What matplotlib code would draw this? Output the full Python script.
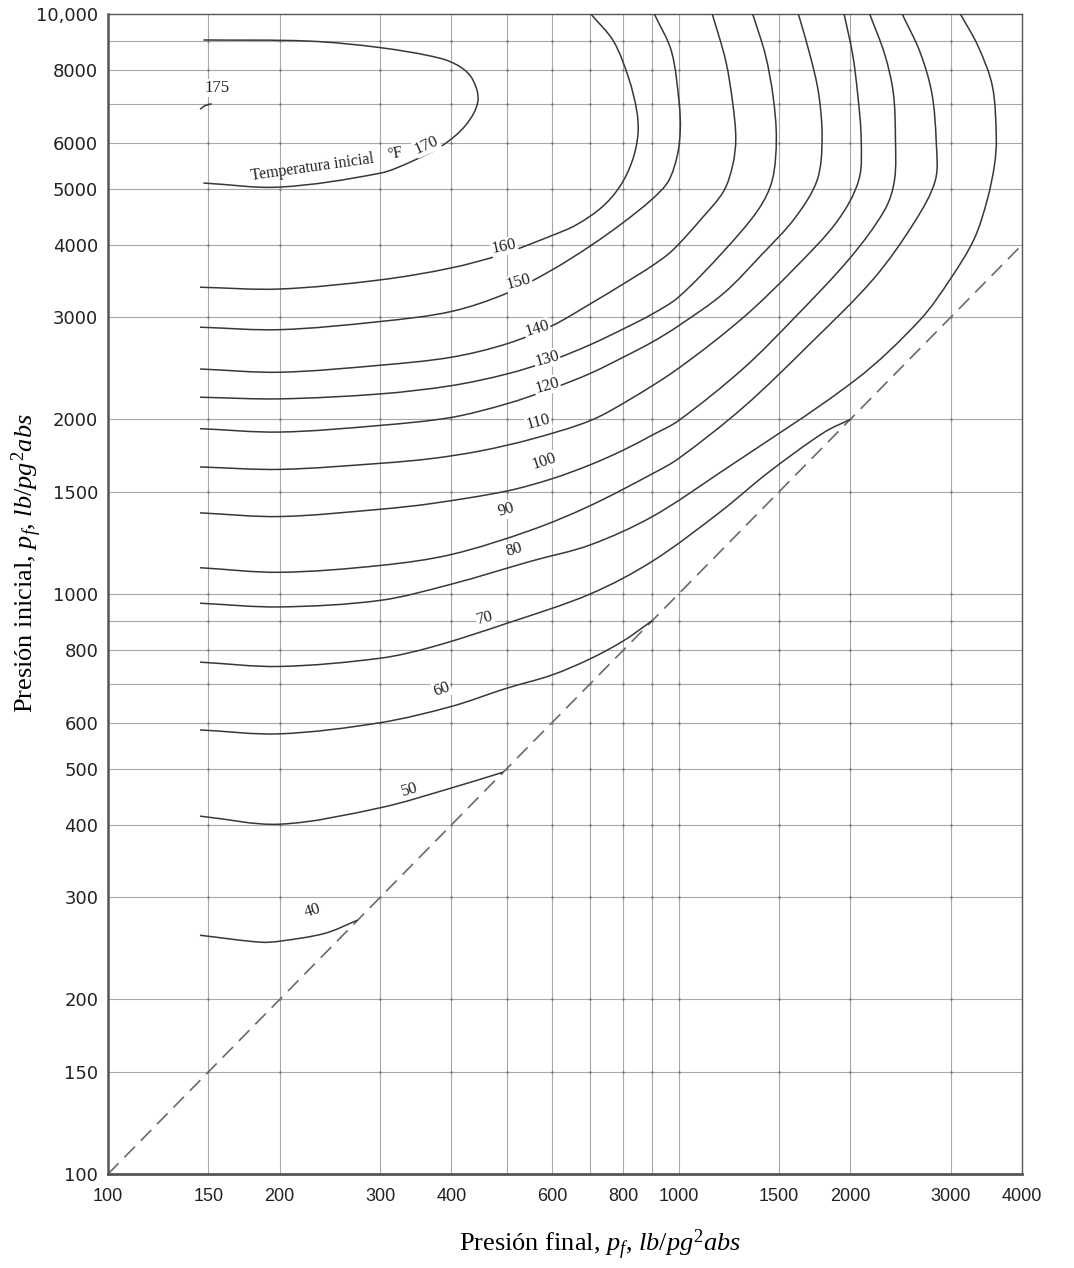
"""Permissible expansion chart: initial vs. final pressure for several initial temperatures."""

import matplotlib.pyplot as plt
import numpy as np
from matplotlib.patches import PathPatch
from matplotlib.path import Path
from matplotlib.ticker import NullLocator

plt.rcParams["mathtext.fontset"] = "custom"
plt.rcParams["mathtext.rm"] = "Liberation Serif"
plt.rcParams["mathtext.it"] = "Liberation Serif:italic"

# Axis ticks and grid
X_TICKS = [100, 150, 200, 300, 400, 600, 800, 1000, 1500, 2000, 3000, 4000]
Y_TICKS = [100, 150, 200, 300, 400, 500, 600, 800, 1000, 1500, 2000, 3000,
           4000, 5000, 6000, 8000, 10000]
Y_TICK_LABELS = ["100", "150", "200", "300", "400", "500", "600", "800", "1000",
                 "1500", "2000", "3000", "4000", "5000", "6000", "8000", "10,000"]
X_GRID = [150, 200, 300, 400, 500, 600, 700, 800, 900, 1000, 1500, 2000, 3000]
Y_GRID = [150, 200, 300, 400, 500, 600, 700, 800, 900, 1000, 1500, 2000, 3000,
          4000, 5000, 6000, 7000, 8000, 9000]

# Constant initial-temperature curves (final pressure, initial pressure), psia
PF_40 = [145, 185, 200, 240, 274]
PI_40 = [258, 251, 252, 260, 274]
PF_50 = [145, 200, 300, 400, 493]
PI_50 = [414, 401, 428, 463, 493]
PF_60 = [145, 200, 300, 400, 500, 600, 700, 800, 900]
PI_60 = [583, 574, 600, 640, 688, 725, 773, 830, 900]
PF_70 = [145, 200, 300, 369, 500, 700, 900, 1183, 1438, 1800, 2000]
PI_70 = [763, 750, 775, 810, 890, 1000, 1139, 1385, 1621, 1900, 2000]
PF_80 = [145, 200, 300, 400, 553, 700, 900, 1183, 2042, 2650, 3000, 3300, 3480,
         3580, 3606, 3550, 3350, 3119]
PI_80 = [964, 950, 975, 1040, 1140, 1215, 1360, 1620, 2339, 2968, 3500, 4100,
         4800, 5500, 6100, 7500, 8800, 10000]
PF_90 = [145, 200, 300, 400, 553, 700, 900, 1000, 1300, 1700, 2200, 2600, 2820,
         2830, 2780, 2650, 2466]
PI_90 = [1110, 1090, 1120, 1170, 1290, 1420, 1612, 1712, 2100, 2700, 3500, 4400,
         5173, 6000, 7300, 8600, 10000]
PF_100 = [145, 200, 300, 369, 500, 600, 700, 800, 900, 1000, 1300, 1600, 2000,
          2300, 2391, 2400, 2380, 2300, 2163]
PI_100 = [1380, 1360, 1400, 1432, 1505, 1580, 1670, 1770, 1880, 1990, 2450, 3000,
          3800, 4600, 5173, 6100, 7300, 8500, 10000]
PF_110 = [145, 200, 300, 369, 450, 553, 700, 819, 1000, 1300, 1600, 1900, 2070,
          2090, 2060, 2020, 1951]
PI_110 = [1656, 1640, 1680, 1712, 1765, 1850, 1990, 2161, 2450, 3000, 3650, 4400,
          5173, 6100, 7300, 8500, 10000]
PF_120 = [145, 200, 300, 400, 500, 600, 700, 800, 900, 1000, 1200, 1400, 1600,
          1750, 1785, 1760, 1700, 1622]
PI_120 = [1928, 1902, 1953, 2016, 2128, 2260, 2400, 2560, 2720, 2900, 3300, 3850,
          4450, 5173, 6100, 7300, 8500, 10000]
PF_130 = [145, 200, 300, 400, 500, 600, 700, 800, 900, 1000, 1200, 1380, 1460,
          1484, 1465, 1420, 1349]
PI_130 = [2184, 2170, 2213, 2287, 2395, 2530, 2690, 2864, 3040, 3250, 3900, 4600,
          5173, 6100, 7200, 8500, 10000]
PF_140 = [145, 200, 300, 400, 500, 600, 700, 800, 900, 975, 1100, 1200, 1245,
          1260, 1245, 1210, 1146]
PI_140 = [2443, 2412, 2480, 2560, 2700, 2900, 3163, 3424, 3683, 3909, 4450, 4950,
          5500, 6100, 7000, 8300, 10000]
PF_150 = [145, 200, 300, 400, 500, 600, 700, 800, 900, 960, 995, 1007, 1003, 972,
          907]
PI_150 = [2884, 2856, 2950, 3070, 3300, 3620, 3980, 4370, 4800, 5150, 5700, 6300,
          7000, 8620, 10000]
PF_160 = [145, 200, 300, 400, 490, 600, 662, 735, 790, 830, 849, 845, 818, 769, 702]
PI_160 = [3380, 3356, 3480, 3650, 3850, 4150, 4330, 4650, 5050, 5587, 6201, 6802,
          7745, 8980, 10000]
PF_170 = [147, 200, 300, 340, 386, 424, 445, 436, 415, 380, 300, 225, 147]
PI_170 = [5112, 5030, 5316, 5565, 5938, 6438, 7072, 7700, 8100, 8400, 8750, 8980,
          9020]
PF_175 = [145, 148, 152]
PI_175 = [6850, 6950, 7000]

# Temperature labels placed along the curves
LABEL_TEXT = ["175", "170", "160", "150", "140", "130", "120", "110", "100",
              "90", "80", "70", "60", "50", "40"]
LABEL_PF = [155, 362, 495, 525, 565, 588, 588, 568, 582, 498, 515, 458, 385, 338, 228]
LABEL_PI = [7450, 5938, 3970, 3446, 2864, 2543, 2287, 1977, 1690, 1395, 1190, 907,
            686, 460, 284]
LABEL_ROT = [0, 24, 12, 15, 17, 16, 16, 15, 18, 17, 17, 14, 20, 17, 17]

CURVES = [
    (PF_40, PI_40), (PF_50, PI_50), (PF_60, PI_60), (PF_70, PI_70),
    (PF_80, PI_80), (PF_90, PI_90), (PF_100, PI_100), (PF_110, PI_110),
    (PF_120, PI_120), (PF_130, PI_130), (PF_140, PI_140), (PF_150, PI_150),
    (PF_160, PI_160), (PF_170, PI_170), (PF_175, PI_175),
]

LINE_COLOR = "#383838"
GRID_COLOR = "#a8a8a8"
TEXT_COLOR = "#222222"
SERIF = "Liberation Serif"


def smooth_path(pf, pi):
    pts = np.log10(np.column_stack([pf, pi]).astype(float))
    tangents = np.empty_like(pts)
    tangents[0] = pts[1] - pts[0]
    tangents[-1] = pts[-1] - pts[-2]
    tangents[1:-1] = pts[2:] - pts[:-2]
    tangents /= np.linalg.norm(tangents, axis=1)[:, None]

    verts = [pts[0]]
    codes = [Path.MOVETO]
    for i in range(len(pts) - 1):
        reach = np.linalg.norm(pts[i + 1] - pts[i]) / 3
        verts += [pts[i] + tangents[i] * reach,
                  pts[i + 1] - tangents[i + 1] * reach,
                  pts[i + 1]]
        codes += [Path.CURVE4] * 3
    return Path(10 ** np.array(verts), codes)


def main():
    fig = plt.figure(figsize=(10.74, 12.68), dpi=100)
    ax = fig.add_axes([108 / 1074, 1 - 1174 / 1268, 914 / 1074, 1160 / 1268])
    ax.set_xscale("log")
    ax.set_yscale("log")
    ax.set_xlim(100, 4000)
    ax.set_ylim(100, 10000)

    ax.set_xticks(X_TICKS, [str(v) for v in X_TICKS])
    ax.set_yticks(Y_TICKS, Y_TICK_LABELS)
    ax.xaxis.set_minor_locator(NullLocator())
    ax.yaxis.set_minor_locator(NullLocator())
    ax.tick_params(length=0, colors=TEXT_COLOR)
    ax.tick_params(axis="x", pad=10)
    ax.tick_params(axis="y", pad=7)
    for label in ax.get_xticklabels():
        label.set_family("Liberation Sans")
        label.set_fontsize(13)
    for label in ax.get_yticklabels():
        label.set_family("DejaVu Sans")
        label.set_fontsize(13)

    for value in X_GRID:
        ax.axvline(value, color=GRID_COLOR, lw=0.8, zorder=1)
    for value in Y_GRID:
        ax.axhline(value, color=GRID_COLOR, lw=0.8, zorder=1)
    # small dots where the printed grid lines cross
    gx, gy = np.meshgrid(X_GRID, Y_GRID)
    ax.scatter(gx.ravel(), gy.ravel(), s=3, color="#777777", lw=0, zorder=1)

    for spine in ax.spines.values():
        spine.set_color("#555555")
        spine.set_linewidth(1.0)
    ax.spines["left"].set_linewidth(1.8)
    ax.spines["bottom"].set_linewidth(2.0)

    # p_f = p_i reference line
    ax.plot([100, 4000], [100, 4000], color="#6a6a6a", lw=1.2,
            dashes=(9, 5), zorder=2)

    for pf, pi in CURVES:
        ax.add_patch(PathPatch(smooth_path(pf, pi), fill=False,
                               edgecolor=LINE_COLOR, lw=1.1, zorder=3))

    for text, pf, pi, rot in zip(LABEL_TEXT, LABEL_PF, LABEL_PI, LABEL_ROT):
        ax.text(pf, pi, text, family=SERIF, fontsize=12, rotation=rot,
                ha="center", va="center", color=TEXT_COLOR, zorder=4,
                bbox=dict(facecolor="white", edgecolor="none", pad=0.6))

    ax.text(228, 5430, "Temperatura inicial", family=SERIF, fontsize=11.5,
            rotation=8, ha="center", va="center", color=TEXT_COLOR, zorder=4)
    ax.text(318, 5750, "°F", family=SERIF, fontsize=11.5, rotation=10,
            ha="center", va="center", color=TEXT_COLOR, zorder=4)

    fig.text(600 / 1074, 1 - 1245 / 1268,
             r"Presión final, $p_f$, $lb/pg^2abs$",
             family=SERIF, fontsize=19, ha="center", va="center")
    fig.text(27 / 1074, 1 - 563 / 1268,
             r"Presión inicial, $p_f$, $lb/pg^2abs$",
             family=SERIF, fontsize=19, rotation=90, ha="center", va="center")

    fig.savefig("out.png", dpi=100)


if __name__ == "__main__":
    main()
